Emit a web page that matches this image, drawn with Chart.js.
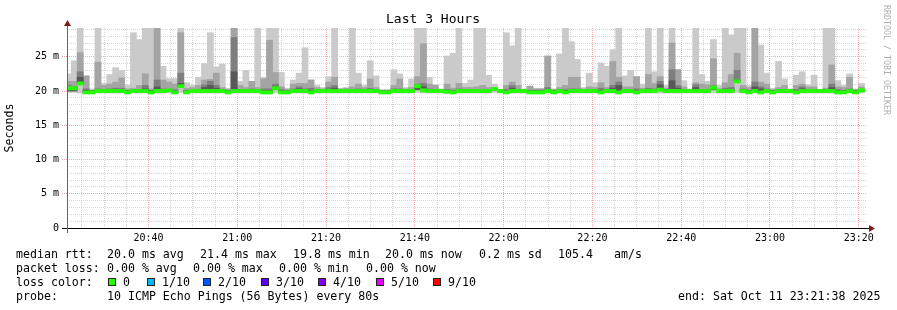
<!DOCTYPE html>
<html><head><meta charset="utf-8">
<script src="https://cdn.jsdelivr.net/npm/chart.js@4/dist/chart.umd.min.js"></script>
<style>html,body{margin:0;padding:0;background:#fff}canvas{display:block}</style>
</head><body>
<canvas id="c" width="897" height="310"></canvas>
<script>
// ---- time grid (minutes after 20:00) ----
const windowStart = 21 + 38/60;      // 20:21:38
const windowEnd = 201 + 38/60;       // 23:21:38
const firstStepCenter = 21 + 56/60;  // centre of first 80 s step
const stepMinutes = 80/60;
const timeTickLabels = ['20:40','21:00','21:20','21:40','22:00','22:20','22:40','23:00','23:20'];
const yTickLabels = ['0','5 m','10 m','15 m','20 m','25 m'];

// ---- smoke data (ms), one value per 80 s step ----
const maxRtt = [
22.5,24.4,29.5,22.2,20.3,29.5,21.1,22.4,23.4,23.0,
20.8,28.5,27.5,29.5,29.5,29.5,23.6,21.8,21.8,29.5,
21.2,20.8,22.0,24.0,28.5,23.5,23.9,20.4,29.5,21.4,
23.0,21.4,29.5,22.0,29.5,29.5,22.7,20.4,21.6,22.6,
26.3,21.6,20.8,20.5,22.1,29.5,20.4,20.5,29.5,22.6,
20.8,24.4,22.2,20.2,20.2,23.1,22.5,20.5,21.75,29.5,
29.5,22.0,20.9,20.3,25.1,25.5,29.5,21.1,21.6,29.5,
29.5,22.3,21.0,20.2,28.5,26.6,29.5,20.3,20.7,20.4,
20.4,25.1,20.3,25.4,29.5,27.2,24.6,20.5,22.6,21.2,
24.1,23.6,26.0,29.5,22.2,23.0,22.1,21.0,29.5,22.8,
29.5,20.8,29.5,23.1,21.5,20.3,29.5,22.4,21.4,27.5,
20.8,29.5,28.2,29.5,29.5,20.8,29.5,26.7,22.6,20.4,
24.3,21.75,20.3,22.3,22.8,20.9,22.3,20.2,29.5,29.5,
21.5,20.8,22.5,20.3,21.1];
const p9Rtt = [
21.4,21.4,25.6,22.2,20.1,24.2,20.8,21.0,21.3,21.9,
20.3,20.4,20.8,22.5,20.3,29.5,21.6,21.3,21.0,28.5,
20.4,20.5,20.8,21.6,21.7,22.6,20.5,20.2,29.5,20.8,
20.5,21.4,20.5,21.75,27.4,22.7,20.6,20.2,21.0,21.1,
21.1,21.6,20.5,20.3,21.3,22.0,20.3,20.4,20.6,21.0,
20.5,21.75,20.5,20.1,20.1,20.8,21.75,20.3,20.5,22.1,
26.9,21.0,20.8,20.2,21.0,20.4,21.1,20.5,20.5,20.6,
20.8,20.5,20.4,20.1,20.8,21.3,20.8,20.2,20.7,20.3,
20.3,25.1,20.2,20.5,20.8,22.0,22.0,20.3,20.6,20.5,
21.2,20.5,24.3,22.0,20.6,20.6,22.1,20.4,22.4,21.1,
22.1,20.4,27.0,23.1,20.6,20.2,21.2,21.0,20.9,24.7,
20.3,21.2,22.4,25.5,20.8,20.5,29.5,21.3,21.0,20.2,
20.5,20.8,20.2,20.8,21.0,20.6,20.6,20.1,20.4,23.8,
20.6,20.5,22.0,20.2,20.6];
const p8Rtt = [
20.8,20.6,22.8,20.3,20.0,20.3,20.2,20.3,20.4,20.4,
20.1,20.1,20.2,20.8,20.1,21.6,20.3,20.3,20.2,22.6,
20.1,20.1,20.2,20.9,21.4,20.8,20.2,20.1,27.8,20.2,
20.2,20.3,20.2,20.3,20.3,21.0,20.2,20.1,20.3,20.6,
20.3,20.4,20.2,20.1,20.5,20.8,20.1,20.1,20.2,20.3,
20.1,20.4,20.2,20.0,20.0,20.3,20.3,20.1,20.2,21.0,
21.1,20.3,20.2,20.1,20.2,20.1,20.3,20.2,20.2,20.2,
20.2,20.2,20.2,20.0,20.2,20.8,20.2,20.1,20.1,20.1,
20.1,20.5,20.1,20.2,20.2,20.3,20.3,20.1,20.2,20.2,
20.4,20.2,20.8,21.3,20.2,20.2,20.3,20.1,20.4,20.3,
21.4,20.1,23.1,20.8,20.2,20.1,20.9,20.2,20.2,20.8,
20.1,20.4,20.5,23.0,20.3,20.1,21.3,20.6,20.3,20.1,
20.2,20.2,20.1,20.2,20.6,20.2,20.2,20.0,20.2,21.0,
20.2,20.1,20.3,20.1,20.2];
const p7Rtt = [
20.0,20.0,22.0,20.1,20.0,20.1,20.1,20.1,20.1,20.1,
20.0,20.0,20.1,20.3,20.0,20.6,20.1,20.1,20.0,21.1,
20.0,20.1,20.1,20.5,20.8,20.4,20.1,20.0,22.8,20.1,
20.1,20.1,20.1,20.0,20.0,20.6,20.0,20.0,20.1,20.3,
20.1,20.0,20.1,20.1,20.2,20.4,20.1,20.1,20.1,20.1,
20.1,20.1,20.1,20.0,20.0,20.1,20.1,20.1,20.1,20.2,
20.6,20.1,19.9,20.1,20.1,20.0,20.1,20.1,20.1,20.1,
20.1,20.1,20.1,20.1,20.0,20.4,20.1,20.1,20.0,20.0,
20.0,20.2,20.0,20.1,20.0,20.1,20.1,20.1,20.1,20.1,
20.0,20.1,20.4,20.8,20.1,20.1,20.0,20.1,20.1,20.1,
20.9,20.1,21.5,20.4,20.1,20.1,20.5,20.1,20.1,20.2,
20.1,20.1,20.1,21.6,20.1,20.0,20.6,20.3,20.1,20.0,
20.1,20.1,20.1,20.0,20.3,20.1,20.1,19.9,20.1,20.5,
20.0,20.0,20.1,20.0,20.1];
const medianRtt = [
20.4,20.4,21.1,19.8,19.8,20.0,20.0,20.0,20.0,20.0,
19.8,20.0,20.0,20.0,19.8,20.0,20.0,20.1,19.8,20.7,
19.8,20.0,20.0,20.0,20.0,20.0,20.0,19.8,20.0,20.0,
20.0,20.0,20.0,19.8,19.8,20.4,19.8,19.8,20.0,20.0,
20.0,19.8,20.0,20.0,20.0,20.0,20.0,20.0,20.0,20.0,
20.0,20.0,20.0,19.8,19.8,20.0,20.0,20.0,20.0,20.7,
20.1,20.0,20.0,20.0,19.9,19.8,20.0,20.0,20.0,20.0,
20.0,20.0,20.3,20.0,19.8,20.0,20.0,20.0,19.8,19.8,
19.8,20.0,19.8,20.0,19.8,20.0,20.0,20.0,20.0,20.0,
19.8,20.0,20.0,19.8,20.0,20.0,19.8,20.0,20.0,20.0,
20.2,20.0,20.0,20.0,20.0,20.0,20.0,20.0,20.0,20.5,
20.0,20.0,20.0,21.4,20.0,19.8,20.0,19.8,20.0,19.8,
20.0,20.0,20.0,19.8,20.0,20.0,20.0,20.0,20.0,20.0,
19.8,19.8,20.0,19.8,20.1];
const minRtt = [
19.8,19.8,19.7,19.6,19.6,19.7,19.7,19.7,19.7,19.7,
19.6,19.7,19.7,19.7,19.6,19.7,19.7,19.7,19.6,19.8,
19.6,19.7,19.7,19.7,19.7,19.7,19.7,19.6,19.7,19.7,
19.7,19.7,19.7,19.6,19.6,19.8,19.6,19.6,19.7,19.7,
19.7,19.6,19.7,19.7,19.7,19.7,19.7,19.7,19.7,19.7,
19.7,19.7,19.7,19.6,19.6,19.7,19.7,19.7,19.7,19.8,
19.7,19.7,19.7,19.7,19.6,19.6,19.7,19.7,19.7,19.7,
19.7,19.7,19.8,19.7,19.6,19.7,19.7,19.7,19.6,19.6,
19.6,19.7,19.6,19.7,19.6,19.7,19.7,19.7,19.7,19.7,
19.6,19.7,19.7,19.6,19.7,19.7,19.6,19.7,19.7,19.7,
19.7,19.7,19.7,19.7,19.7,19.7,19.7,19.7,19.7,19.8,
19.7,19.7,19.7,19.8,19.7,19.6,19.7,19.6,19.7,19.6,
19.7,19.7,19.7,19.6,19.7,19.7,19.7,19.7,19.7,19.7,
19.6,19.6,19.7,19.6,19.7];

// ---- legend texts ----
const rttStats = ['median rtt:', '20.0 ms avg', '21.4 ms max', '19.8 ms min', '20.0 ms now', '0.2 ms sd', '105.4', 'am/s'];
const lossStats = ['packet loss:', '0.00 % avg', '0.00 % max', '0.00 % min', '0.00 % now'];
const lossLabels = ['0', '1/10', '2/10', '3/10', '4/10', '5/10', '9/10'];
const lossColors = ['#26ff00', '#00b8ff', '#0059ff', '#5e00ff', '#7e00ff', '#dd00ff', '#ff0000'];
const probeText = ['probe:', '10 ICMP Echo Pings (56 Bytes) every 80s'];
const endText = 'end: Sat Oct 11 23:21:38 2025';

const MONO = "'DejaVu Sans Mono', monospace";
const MAJOR = 'rgba(255,60,60,0.45)';
const MINOR = 'rgba(150,150,150,0.4)';
const centers = maxRtt.map((_, i) => firstStepCenter + i * stepMinutes);
const band = (lo, hi) => centers.map((x, i) => ({x, y: [lo[i], hi[i]]}));
const medianBand = centers.map((x, i) => ({x, y: [medianRtt[i] - 0.22, medianRtt[i] + 0.22]}));
const tickVal = c => (c && c.tick && typeof c.tick.value === 'number') ? Math.round(c.tick.value) : null;

const barCommon = {type: 'bar', grouped: false, barPercentage: 1, categoryPercentage: 1, borderWidth: 0, inflateAmount: 0.4};

const decor = {
  id: 'decor',
  afterDraw(chart) {
    const ctx = chart.ctx;
    ctx.save();
    ctx.strokeStyle = '#000'; ctx.lineWidth = 1;
    ctx.beginPath(); ctx.moveTo(62, 228.5); ctx.lineTo(870, 228.5); ctx.stroke();
    ctx.strokeStyle = '#666';
    ctx.beginPath(); ctx.moveTo(67.5, 233); ctx.lineTo(67.5, 25); ctx.stroke();
    ctx.fillStyle = '#7f1a1a';
    ctx.beginPath(); ctx.moveTo(67.5, 20); ctx.lineTo(64, 26); ctx.lineTo(71, 26); ctx.closePath(); ctx.fill();
    ctx.beginPath(); ctx.moveTo(875, 228.5); ctx.lineTo(869, 225); ctx.lineTo(869, 232); ctx.closePath(); ctx.fill();
    ctx.fillStyle = '#b0b0b0';
    ctx.font = '8.3px ' + MONO;
    ctx.textBaseline = 'middle'; ctx.textAlign = 'left';
    ctx.translate(886, 5); ctx.rotate(Math.PI / 2);
    ctx.fillText('RRDTOOL / TOBI OETIKER', 0, 0);
    ctx.restore();

    ctx.save();
    ctx.fillStyle = '#000';
    ctx.font = '11.6px ' + MONO;
    ctx.textBaseline = 'alphabetic'; ctx.textAlign = 'left';
    const rttX = [16, 107, 200, 293, 385, 479, 558, 614];
    rttStats.forEach((t, i) => ctx.fillText(t, rttX[i], 258));
    const lossX = [16, 107, 193, 279, 366];
    lossStats.forEach((t, i) => ctx.fillText(t, lossX[i], 272));
    ctx.fillText('loss color:', 16, 286);
    const boxX = [108, 147, 203, 261, 318, 376, 433];
    lossLabels.forEach((t, i) => {
      ctx.fillStyle = lossColors[i];
      ctx.fillRect(boxX[i], 278, 7, 8);
      ctx.strokeStyle = '#222'; ctx.lineWidth = 1;
      ctx.strokeRect(boxX[i] + 0.5, 278.5, 7, 7);
      ctx.fillStyle = '#000';
      ctx.fillText(t, boxX[i] + 15, 286);
    });
    ctx.fillText(probeText[0], 16, 300);
    ctx.fillText(probeText[1], 107, 300);
    ctx.fillText(endText, 678, 300);
    ctx.restore();
  }
};

new Chart(document.getElementById('c'), {
  data: {
    datasets: [
      Object.assign({label: 'median', data: medianBand, backgroundColor: '#22ff00', order: 0}, barCommon),
      Object.assign({label: 'ping 4-7', data: band(medianRtt, p7Rtt), backgroundColor: '#585858', order: 1}, barCommon),
      Object.assign({label: 'ping 3-8', data: band(medianRtt, p8Rtt), backgroundColor: '#7e7e7e', order: 2}, barCommon),
      Object.assign({label: 'ping 2-9', data: band(medianRtt, p9Rtt), backgroundColor: '#a4a4a4', order: 3}, barCommon),
      Object.assign({label: 'ping 1-10', data: band(minRtt, maxRtt), backgroundColor: '#cacaca', order: 4}, barCommon)
    ]
  },
  options: {
    responsive: false,
    animation: false,
    devicePixelRatio: 1,
    layout: {padding: {left: 0, right: 31, top: 0, bottom: 0}},
    plugins: {
      legend: {display: false},
      tooltip: {enabled: false},
      title: {display: true, text: 'Last 3 Hours', color: '#000',
        font: {family: MONO, size: 13, weight: 'normal'}, padding: {top: 11.7, bottom: 0.7}}
    },
    scales: {
      x: {
        type: 'linear', position: 'bottom', min: windowStart, max: windowEnd, z: 1, offset: false,
        afterBuildTicks: s => {
          const t = [];
          for (let m = 25; m <= 200; m += 5) t.push({value: m});
          s.ticks = t;
        },
        afterFit: s => { s.height = 82; },
        grid: {
          offset: false, drawTicks: false, lineWidth: 1,
          color: c => { const v = tickVal(c); return (v !== null && v % 20 === 0) ? MAJOR : MINOR; }
        },
        border: {display: false, dash: [1, 1]},
        ticks: {
          autoSkip: false, maxRotation: 0, minRotation: 0, padding: 4, color: '#000',
          font: {family: MONO, size: 10},
          callback: v => {
            const r = Math.round(v);
            return r % 20 === 0 ? (timeTickLabels[(r - 40) / 20] || '') : '';
          }
        }
      },
      y: {
        type: 'linear', min: 0, max: 29.2, z: 1,
        afterBuildTicks: s => {
          const t = [];
          for (let v = 0; v <= 29; v++) t.push({value: v});
          s.ticks = t;
        },
        afterFit: s => { s.width = 67; },
        grid: {
          lineWidth: 1, tickLength: 5, tickBorderDash: [1, 1],
          color: c => { const v = tickVal(c); return (v !== null && v % 5 === 0) ? MAJOR : MINOR; },
          tickColor: c => { const v = tickVal(c); return (v !== null && v % 5 === 0) ? MAJOR : 'rgba(0,0,0,0)'; }
        },
        border: {display: false, dash: [1, 1]},
        ticks: {
          autoSkip: false, padding: 3, color: '#000', font: {family: MONO, size: 10},
          callback: v => (Math.round(v) % 5 === 0) ? yTickLabels[Math.round(v) / 5] : ''
        },
        title: {display: true, text: 'Seconds', color: '#000', font: {family: MONO, size: 11.6}, padding: {top: 3.5, bottom: 0}}
      }
    }
  },
  plugins: [decor]
});
</script>
</body></html>
